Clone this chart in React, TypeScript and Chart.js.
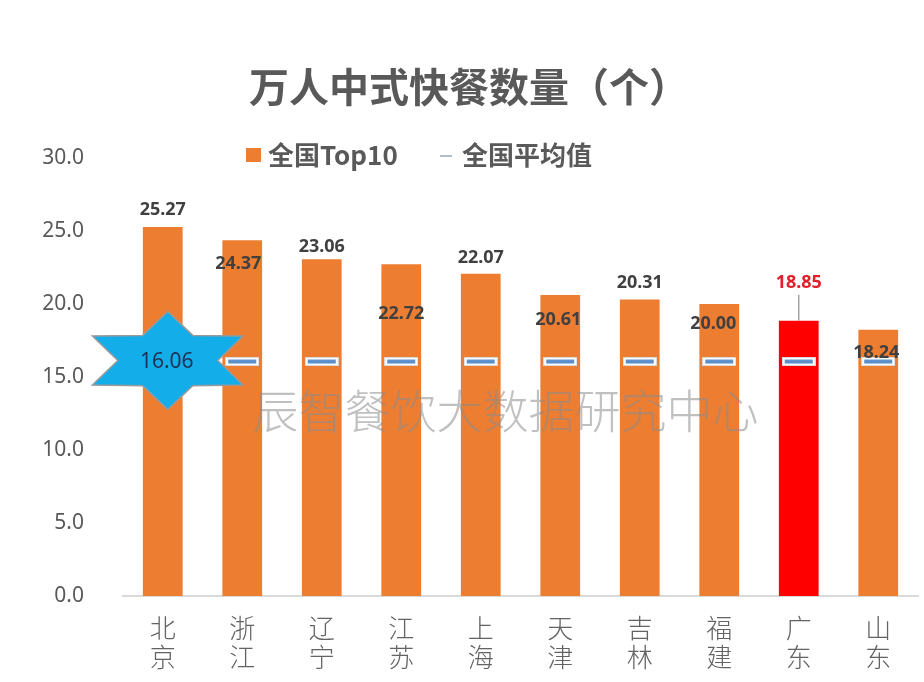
import React, { useEffect, useRef } from 'react';
import { Chart, registerables } from 'chart.js';

Chart.register(...registerables);

const categories = ['北京', '浙江', '辽宁', '江苏', '上海', '天津', '吉林', '福建', '广东', '山东'];
const top10Values = [25.27, 24.37, 23.06, 22.72, 22.07, 20.61, 20.31, 20.0, 18.85, 18.24];
const nationalAvg = [16.06, 16.06, 16.06, 16.06, 16.06, 16.06, 16.06, 16.06, 16.06, 16.06];
const highlightCategory = '广东';
const titleText = '万人中式快餐数量（个）';
const legendLabels = ['全国Top10', '全国平均值'];
const watermarkText = '辰智餐饮大数据研究中心';

const ORANGE = '#ED7D31';
const RED = '#FF0000';
const AVG_BLUE = '#5B8FCB';
const TEXT = '#595959';

// label vertical offset (px) from bar top: negative = above, positive = inside
const labelOffsets = [-17, 24, -12, 50, -16, 25, -17, 20, -38, 23];
const labelShiftX = [0, -4, 0, 0, 0, -2, 0, -6, 0, -2];

function makeMarker(): HTMLCanvasElement {
  const c = document.createElement('canvas');
  c.width = 34;
  c.height = 9;
  const g = c.getContext('2d')!;
  g.fillStyle = '#d8d8d8';
  g.fillRect(0, 0, 34, 9);
  g.fillStyle = '#ffffff';
  g.fillRect(1, 1, 32, 7);
  g.fillStyle = AVG_BLUE;
  g.fillRect(3, 2.5, 28, 4);
  return c;
}

const overlayPlugin = {
  id: 'overlay',
  afterDatasetsDraw(chart: any) {
    const ctx = chart.ctx as CanvasRenderingContext2D;
    const barMeta = chart.getDatasetMeta(0);
    const avgMeta = chart.getDatasetMeta(1);
    const area = chart.chartArea;

    // watermark
    ctx.save();
    ctx.font = '300 46px "Noto Sans CJK SC"';
    ctx.fillStyle = 'rgba(140,140,140,0.55)';
    ctx.textAlign = 'center';
    ctx.textBaseline = 'middle';
    ctx.fillText(watermarkText, (area.left + area.right) / 2 - 15, chart.scales.y.getPixelForValue(12.7));
    ctx.restore();

    // value labels
    ctx.save();
    ctx.font = 'bold 18px "Noto Sans"';
    ctx.textAlign = 'center';
    ctx.textBaseline = 'middle';
    barMeta.data.forEach((bar: any, i: number) => {
      const isHi = categories[i] === highlightCategory;
      const x = bar.x + labelShiftX[i];
      const y = bar.y + labelOffsets[i];
      if (isHi) {
        ctx.strokeStyle = '#a6a6a6';
        ctx.lineWidth = 1.5;
        ctx.beginPath();
        ctx.moveTo(bar.x, y + 12);
        ctx.lineTo(bar.x, bar.y);
        ctx.stroke();
      }
      ctx.fillStyle = isHi ? '#E0202A' : '#404040';
      ctx.fillText(top10Values[i].toFixed(2), x, y);
    });
    ctx.restore();

    // star on first average point
    const p = avgMeta.data[0];
    if (p) {
      const cx = p.x + 5;
      const cy = p.y - 1;
      const rox = 87, roy = 49, rix = 50, riy = 29;
      ctx.save();
      ctx.beginPath();
      for (let k = 0; k < 12; k++) {
        const ang = (Math.PI / 180) * (90 + k * 30);
        const outer = k % 2 === 0;
        const rx = outer ? rox : rix;
        const ry = outer ? roy : riy;
        const px = cx + rx * Math.cos(ang);
        const py = cy - ry * Math.sin(ang);
        if (k === 0) ctx.moveTo(px, py);
        else ctx.lineTo(px, py);
      }
      ctx.closePath();
      ctx.fillStyle = '#13AEEA';
      ctx.fill();
      ctx.strokeStyle = '#9a9a9a';
      ctx.lineWidth = 1.5;
      ctx.stroke();
      ctx.font = '21px "Noto Sans"';
      ctx.fillStyle = '#1F3050';
      ctx.textAlign = 'center';
      ctx.textBaseline = 'middle';
      ctx.fillText(nationalAvg[0].toFixed(2), cx - 1, cy + 1);
      ctx.restore();
    }

    // legend
    ctx.save();
    const ly = 155;
    ctx.fillStyle = ORANGE;
    ctx.fillRect(246, ly - 7, 15, 14);
    ctx.font = 'bold 26px "Noto Sans CJK SC"';
    ctx.fillStyle = TEXT;
    ctx.textAlign = 'left';
    ctx.textBaseline = 'middle';
    ctx.fillText(legendLabels[0], 268, ly);
    ctx.strokeStyle = '#b4bccb';
    ctx.lineWidth = 2;
    ctx.beginPath();
    ctx.moveTo(440, ly + 1);
    ctx.lineTo(452, ly + 1);
    ctx.stroke();
    ctx.fillText(legendLabels[1], 462, ly);
    ctx.restore();
  },
  afterDraw(chart: any) {
    const ctx = chart.ctx as CanvasRenderingContext2D;
    ctx.save();
    ctx.font = 'bold 40px "Noto Sans CJK SC"';
    ctx.fillStyle = TEXT;
    ctx.textAlign = 'left';
    ctx.textBaseline = 'middle';
    ctx.fillText(titleText, 249, 87);
    ctx.restore();
  },
};

export default function App() {
  const ref = useRef<HTMLCanvasElement>(null);
  useEffect(() => {
    if (!ref.current) return;
    const marker = makeMarker();
    const chart = new Chart(ref.current, {
      type: 'bar',
      data: {
        labels: categories,
        datasets: [
          {
            type: 'bar',
            label: legendLabels[0],
            data: top10Values,
            backgroundColor: categories.map((c) => (c === highlightCategory ? RED : ORANGE)),
            barPercentage: 0.5,
            categoryPercentage: 1.0,
            order: 2,
          },
          {
            type: 'line',
            label: legendLabels[1],
            data: nationalAvg,
            showLine: false,
            pointStyle: marker as any,
            pointRadius: (c: any) => (c.dataIndex === 0 ? 0 : 5),
            order: 1,
          } as any,
        ],
      },
      options: {
        responsive: false,
        animation: false,
        layout: { padding: { top: 158, left: 0, right: 6, bottom: 0 } },
        plugins: {
          legend: { display: false },
          title: { display: false },
          tooltip: { enabled: false },
        },
        scales: {
          x: {
            grid: { display: false },
            border: { display: true, color: '#D9D9D9', width: 2 },
            afterFit: (s: any) => {
              s.height = 86;
            },
            ticks: {
              color: '#636363',
              font: { family: '"Noto Sans CJK SC"', size: 26, weight: '300', lineHeight: 1.1 } as any,
              padding: 10,
              maxRotation: 0,
              callback: (_v: any, i: number) => categories[i].split(''),
            },
          },
          y: {
            min: 0,
            max: 30,
            grid: { display: false },
            border: { display: false },
            afterFit: (s: any) => {
              s.width = 123;
            },
            ticks: {
              stepSize: 5,
              color: TEXT,
              padding: 31,
              font: { family: '"Noto Sans"', size: 21 },
              callback: (v: any) => Number(v).toFixed(1),
            },
          },
        },
      },
      plugins: [overlayPlugin],
    });
    return () => chart.destroy();
  }, []);
  return (
    <div style={{ position: 'fixed', left: 0, top: 0, width: 924, height: 682, background: '#fff' }}>
      <canvas ref={ref} width={924} height={682} style={{ display: 'block' }} />
    </div>
  );
}
